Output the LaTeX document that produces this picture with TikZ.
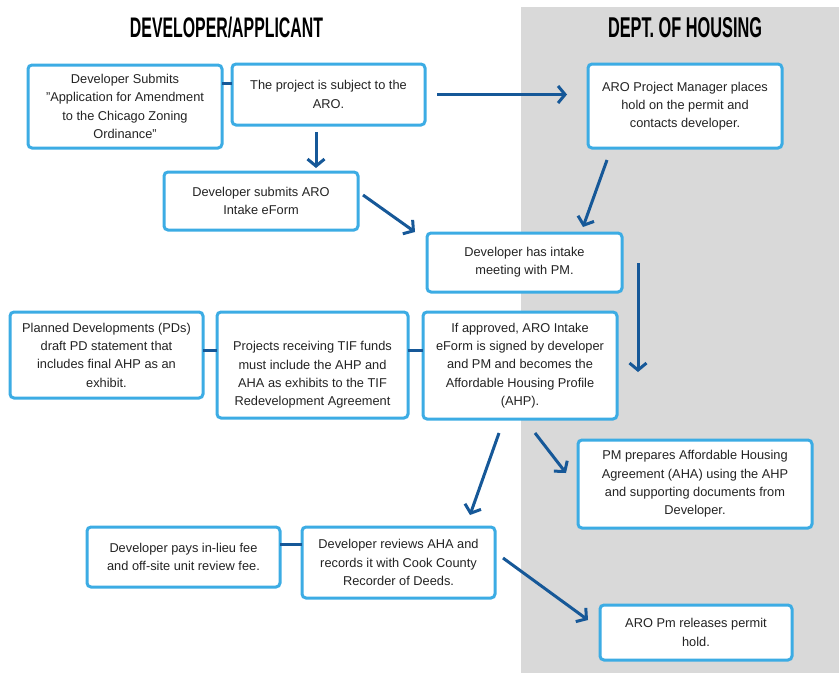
\documentclass[tikz,border=0pt]{standalone}
\usepackage{graphicx}
\usepackage{fontspec}
\setmainfont{Liberation Sans}
\usetikzlibrary{arrows.meta}
\definecolor{boxblue}{RGB}{60,172,228}
\definecolor{arrblue}{RGB}{22,88,152}
\definecolor{bggray}{RGB}{217,217,217}
\definecolor{txtgray}{RGB}{35,35,35}
\tikzset{
  boxfont/.style={font=\fontsize{12.8}{18.3}\selectfont},
  flowbox/.style={draw=boxblue, line width=3pt, fill=white, rounded corners=4pt,
    align=center, text=txtgray, outer sep=0pt, inner sep=0pt, boxfont},
  arr/.style={draw=arrblue, line width=3pt,
    -{Straight Barb[length=7pt,width=17pt,line width=3pt]}},
  link/.style={draw=arrblue, line width=3pt},
  header/.style={inner sep=0pt, outer sep=0pt}
}
\begin{document}
\begin{tikzpicture}[x=1pt,y=-1pt]
\useasboundingbox (0,0) rectangle (839,673);
\fill[bggray] (521,7) rectangle (839,673);
\node[header] (h1) at (226.5,27.5) {\resizebox{193pt}{20.5pt}{\bfseries DEVELOPER/APPLICANT}};
\node[header] (h2) at (685,28) {\resizebox{154pt}{20pt}{\bfseries DEPT. OF HOUSING}};

\node[flowbox, minimum width=194pt, minimum height=83pt] (A) at (125,106.5)
  {Developer Submits\\"Application for Amendment\\to the Chicago Zoning\\Ordinance"};
\node[flowbox, minimum width=193pt, minimum height=61pt] (B) at (328.5,94.5)
  {The project is subject to the\\ARO.};
\node[flowbox, minimum width=194pt, minimum height=58pt] (C) at (261,201)
  {Developer submits ARO\\Intake eForm};
\node[flowbox, minimum width=194pt, minimum height=84pt] (D) at (685,106)
  {ARO Project Manager places\\hold on the permit and\\contacts developer.};
\node[flowbox, minimum width=195pt, minimum height=59pt] (E) at (524.5,262.5)
  {Developer has intake\\meeting with PM.};
\node[flowbox, minimum width=194pt, minimum height=107pt] (F) at (520,365.5)
  {If approved, ARO Intake\\eForm is signed by developer\\and PM and becomes the\\Affordable Housing Profile\\(AHP).};
\node[flowbox, minimum width=234pt, minimum height=88pt] (G) at (695,484)
  {PM prepares Affordable Housing\\Agreement (AHA) using the AHP\\and supporting documents from\\Developer.};
\node[flowbox, minimum width=193pt, minimum height=86pt] (I) at (106.5,355)
  {Planned Developments (PDs)\\draft PD statement that\\includes final AHP as an\\exhibit.};
\node[flowbox, minimum width=191pt, minimum height=106pt] (J) at (312.5,365) {};
\node[align=center, text=txtgray, inner sep=0pt, boxfont] (Jt) at (312.5,375)
  {Projects receiving TIF funds\\must include the AHP and\\AHA as exhibits to the TIF\\Redevelopment Agreement};
\node[flowbox, minimum width=193pt, minimum height=60pt] (K) at (183.5,557)
  {Developer pays in-lieu fee\\and off-site unit review fee.};
\node[flowbox, minimum width=193pt, minimum height=71pt] (H) at (398.5,562.5)
  {Developer reviews AHA and\\records it with Cook County\\Recorder of Deeds.};
\node[flowbox, minimum width=192pt, minimum height=55pt] (L) at (696,632.5)
  {ARO Pm releases permit\\hold.};

% plain connectors
\draw[link] ([shift={(0,-23.5)}]A.east) -- ([shift={(0,-11.5)}]B.west);
\draw[link] ([shift={(0,-5)}]I.east) -- ([shift={(0,-15)}]J.west);
\draw[link] ([shift={(0,-15)}]J.east) -- ([shift={(0,-15.5)}]F.west);
\draw[link] ([shift={(0,-13)}]K.east) -- ([shift={(0,-18.5)}]H.west);

% arrows
\draw[arr] ([shift={(12,0)}]B.east) -- ([shift={(-21,-11.5)}]D.west);
\draw[arr] ([shift={(-12.5,7)}]B.south) -- ([shift={(55,-4)}]C.north);
\draw[arr] ([shift={(5,-6)}]C.east) -- ([shift={(-12,-30.5)}]E.west);
\draw[arr] ([shift={(-78,12)}]D.south) -- ([shift={(58.5,-6)}]E.north);
\draw[arr] ([shift={(16,0.5)}]E.east) -- ([shift={(21,6.5)}]F.east);
\draw[arr] ([shift={(-21,14)}]F.south) -- ([shift={(71.5,-12)}]H.north);
\draw[arr] ([shift={(15,14)}]F.south) -- ([shift={(-12,-11)}]G.west);
\draw[arr] ([shift={(8,-4.5)}]H.east) -- ([shift={(-12,-12.5)}]L.west);
\end{tikzpicture}
\end{document}
